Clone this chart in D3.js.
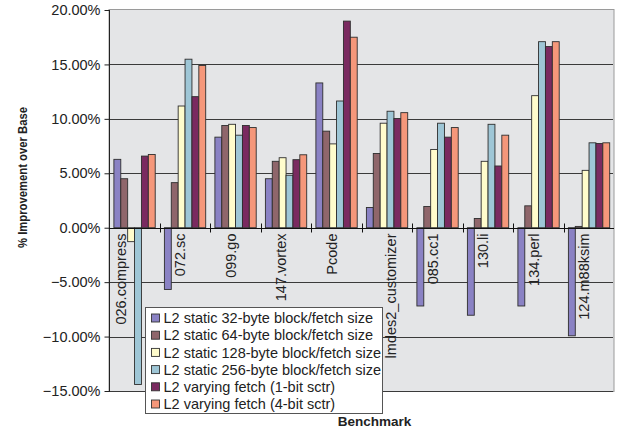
<!DOCTYPE html>
<html>
<head>
<meta charset="utf-8">
<script src="https://cdn.jsdelivr.net/npm/d3@7/dist/d3.min.js"></script>
<style>
  html, body { margin: 0; padding: 0; background: #fff; }
  svg { display: block; font-family: "Liberation Sans", Arial, Helvetica, sans-serif; }
</style>
</head>
<body>
<svg id="chart" width="624" height="429"></svg>
<script>
// Benchmarks along the x axis
const benchmarks = ["026.compress", "072.sc", "099.go", "147.vortex", "Pcode",
  "lmdes2_customizer", "085.cc1", "130.li", "134.perl", "124.m88ksim"];

// Series names (legend order)
const seriesNames = [
  "L2 static 32-byte block/fetch size",
  "L2 static 64-byte block/fetch size",
  "L2 static 128-byte block/fetch size",
  "L2 static 256-byte block/fetch size",
  "L2 varying fetch (1-bit sctr)",
  "L2 varying fetch (4-bit sctr)"
];

// % improvement over base, one array per series, in benchmark order
const static32  = [6.28, -5.67, 8.32, 4.50, 13.30, 1.86, -7.19, -8.04, -7.19, -9.93];
const static64  = [4.50, 4.14, 9.39, 6.10, 8.87, 6.82, 1.95, 0.85, 2.01, 0.12];
const static128 = [-1.28, 11.18, 9.50, 6.43, 7.70, 9.60, 7.19, 6.10, 12.13, 5.27];
const static256 = [-14.40, 15.48, 8.50, 4.82, 11.64, 10.70, 9.60, 9.50, 17.09, 7.80];
const vary1bit  = [6.58, 12.04, 9.39, 6.25, 18.98, 10.03, 8.32, 5.67, 16.64, 7.74];
const vary4bit  = [6.73, 14.90, 9.20, 6.70, 17.50, 10.57, 9.20, 8.50, 17.09, 7.80];

const yTicks = [-15, -10, -5, 0, 5, 10, 15, 20];

const seriesValues = [static32, static64, static128, static256, vary1bit, vary4bit];
const colors = ["#8a82c4", "#8f666b", "#fffccc", "#9ec6d6", "#7a2a60", "#f5977a"];

const svg = d3.select("#chart");
const plot = { left: 109, right: 614, top: 10, bottom: 391 };

const x = d3.scaleBand().domain(benchmarks).range([plot.left, plot.right]);
const xInner = d3.scaleBand().domain(d3.range(seriesNames.length))
  .range([x.bandwidth() * 0.097, x.bandwidth() * 0.915]);
const y = d3.scaleLinear().domain([-15, 20]).range([plot.bottom, plot.top]);

// plot area
svg.append("rect")
  .attr("x", plot.left).attr("y", plot.top - 0.5)
  .attr("width", plot.right - plot.left).attr("height", plot.bottom - plot.top + 1)
  .attr("fill", "#e4e5e7").attr("stroke", "#9a9a9a").attr("stroke-width", 1);

// horizontal gridlines
svg.append("g").selectAll("line")
  .data(yTicks.filter(t => t !== 20 && t !== 0))
  .join("line")
  .attr("x1", plot.left).attr("x2", plot.right - 1)
  .attr("y1", d => Math.round(y(d)) + 0.5).attr("y2", d => Math.round(y(d)) + 0.5)
  .attr("stroke", "#3a3a3a").attr("stroke-width", 1);

// bars
const groups = svg.append("g").selectAll("g")
  .data(benchmarks)
  .join("g")
  .attr("transform", d => `translate(${x(d)},0)`);

groups.selectAll("rect")
  .data((d, i) => seriesValues.map((vals, s) => ({ s, v: vals[i] })))
  .join("rect")
  .attr("x", d => xInner(d.s))
  .attr("width", xInner.bandwidth())
  .attr("y", d => y(Math.max(0, d.v)))
  .attr("height", d => Math.abs(y(d.v) - y(0)))
  .attr("fill", d => colors[d.s])
  .attr("stroke", "#2e2e2e")
  .attr("stroke-width", 0.9);

// y axis
const yAxis = d3.axisLeft(y).tickValues(yTicks)
  .tickFormat(d => d3.format(".2f")(d) + "%")
  .tickSize(5).tickPadding(4);
const gy = svg.append("g").attr("transform", `translate(${plot.left + 0.5},0)`).call(yAxis);
gy.select(".domain").attr("stroke", "#222").attr("d", `M0,${plot.top}V${plot.bottom + 1}`);
gy.selectAll(".tick line").attr("stroke", "#222");
gy.selectAll(".tick text").attr("fill", "#222").style("font-size", "14.5px")
  .attr("font-family", "'Liberation Sans', Arial, sans-serif");

// zero axis line with category ticks
const y0 = Math.round(y(0)) + 0.5;
svg.append("line")
  .attr("x1", plot.left).attr("x2", plot.right)
  .attr("y1", y0).attr("y2", y0)
  .attr("stroke", "#111").attr("stroke-width", 1);
svg.append("g").selectAll("line")
  .data(benchmarks.slice(1))
  .join("line")
  .attr("x1", d => Math.round(x(d)) + 0.5).attr("x2", d => Math.round(x(d)) + 0.5)
  .attr("y1", y0 - 5).attr("y2", y0 + 4)
  .attr("stroke", "#111");

// category labels, vertical, hanging below the zero line
const labelShift = { "026.compress": -9, "lmdes2_customizer": 8.5 };
svg.append("g").selectAll("text")
  .data(benchmarks)
  .join("text")
  .attr("transform", d => `translate(${x(d) + x.bandwidth() / 2 - 4.5 + (labelShift[d] || 0)},${y0 + 5}) rotate(-90)`)
  .attr("dy", "0.35em")
  .attr("text-anchor", "end")
  .attr("fill", "#222")
  .style("font-size", "14.5px")
  .text(d => d);

// axis titles
svg.append("text")
  .attr("transform", "translate(22,177.5) rotate(-90)")
  .attr("dy", "0.35em")
  .attr("text-anchor", "middle")
  .attr("font-weight", "bold")
  .attr("fill", "#222")
  .attr("textLength", 141).attr("lengthAdjust", "spacingAndGlyphs")
  .style("font-size", "13px")
  .text("% Improvement over Base");

svg.append("text")
  .attr("x", 374.5).attr("y", 426)
  .attr("text-anchor", "middle")
  .attr("font-weight", "bold")
  .attr("fill", "#222")
  .style("font-size", "13.5px")
  .text("Benchmark");

// legend
const legend = svg.append("g").attr("transform", "translate(145,307)");
legend.append("rect")
  .attr("x", 0.5).attr("y", 0.5).attr("width", 237).attr("height", 106)
  .attr("fill", "#fff").attr("stroke", "#555").attr("stroke-width", 1);
const items = legend.selectAll("g.item")
  .data(seriesNames)
  .join("g")
  .attr("class", "item")
  .attr("transform", (d, i) => `translate(0,${11 + i * 17.2})`);
items.append("rect")
  .attr("x", 6.5).attr("y", -4).attr("width", 8).attr("height", 8)
  .attr("fill", (d, i) => colors[i]).attr("stroke", "#333").attr("stroke-width", 0.9);
items.append("text")
  .attr("x", 18.5).attr("dy", "0.36em")
  .attr("fill", "#222")
  .style("font-size", "14.5px")
  .text(d => d);
</script>
</body>
</html>
